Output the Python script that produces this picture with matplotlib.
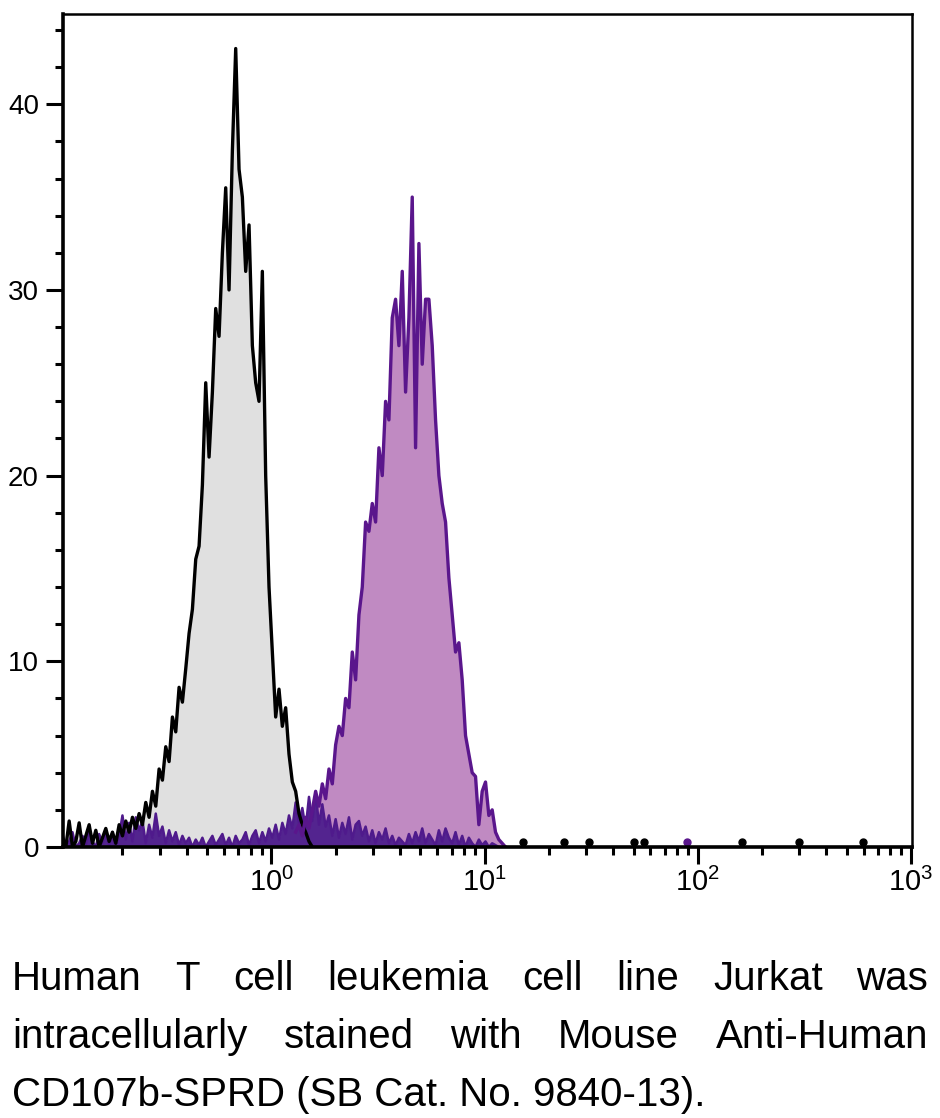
import numpy as np
import matplotlib
matplotlib.use('Agg')
import matplotlib.pyplot as plt
from matplotlib.ticker import FixedLocator, LogLocator, MultipleLocator, NullFormatter

# histogram channels (log10 of first channel, width of one channel in decades)
first_channel = -0.98
channel_width = 1 / 64

# isotype control (grey)
control_start = 0
control_counts = [0.5, 0, 1.4, 0, 0.3, 1.3, 0, 0.6, 1.2, 0.2,
                  0.9, 0, 0.5, 1.0, 0.3, 0.8, 0.2, 1.2, 0.6, 1.4,
                  0.8, 1.6, 1.0, 1.8, 1.2, 2.4, 1.6, 3.0, 2.2, 4.2,
                  3.6, 5.4, 4.6, 7.0, 6.2, 8.6, 7.8, 9.6, 11.5, 12.8,
                  15.5, 16.2, 19.5, 25.0, 21.0, 24.5, 29.0, 27.5, 32.0, 35.5,
                  30.0, 37.5, 43.0, 36.5, 35.0, 31.0, 33.5, 27.0, 25.0, 24.0,
                  31.0, 20.0, 14.0, 10.5, 7.0, 8.5, 6.5, 7.5, 5.0, 3.5,
                  3.0, 1.8, 1.2, 0.8, 0.3, 0]

# CD107b stained (purple)
stained_start = 70
stained_counts = [0.8, 1.2, 0.6, 1.6, 1.0, 2.0, 3.0, 2.2, 3.4, 2.6,
                  4.2, 3.4, 5.5, 6.5, 6.0, 8.0, 7.5, 10.5, 9.0, 12.5,
                  14.0, 17.5, 17.0, 18.5, 17.5, 21.5, 20.0, 24.0, 23.0, 28.5,
                  29.5, 27.0, 31.0, 24.5, 28.5, 35.0, 21.5, 32.5, 26.0, 29.5,
                  29.5, 27.0, 23.0, 20.0, 18.5, 17.5, 14.5, 12.5, 10.5, 11.0,
                  9.0, 6.0, 5.0, 4.0, 3.8, 1.2, 3.0, 3.5, 1.7, 2.0,
                  0.8, 0.4, 0.2, 0.0]

# low-level events (dark purple)
background_start = 0
background_counts = [0.7, 0, 0.3, 0.8, 0, 0.2, 0.6, 0.1, 0.9, 0.3,
                     0, 0.7, 0.2, 0.9, 0.1, 0.8, 0, 0.6, 1.7, 0.4,
                     1.3, 0.3, 1.6, 0.9, 1.4, 0.2, 1.2, 0.5, 1.8, 0.6,
                     1.1, 0.2, 0.9, 0.3, 0.8, 0.1, 0.6, 0.2, 0.5, 0,
                     0.4, 0.1, 0.5, 0, 0.3, 0.6, 0.1, 0.4, 0.7, 0.1,
                     0.5, 0, 0.6, 0.2, 0.4, 0.8, 0.1, 0.6, 0.9, 0.2,
                     0.8, 0.3, 1.0, 0.5, 1.2, 0.4, 1.3, 0.7, 1.7, 1.0,
                     2.4, 1.3, 2.1, 1.0, 2.7, 1.4, 2.9, 1.2, 2.3, 1.1,
                     1.7, 0.6, 1.5, 0.5, 1.3, 0.7, 1.6, 0.4, 1.2, 1.4,
                     0.6, 1.1, 0.3, 0.9, 0.2, 0.8, 0.4, 1.0, 0.2, 0.6,
                     0.1, 0.5, 0.3, 0.1, 0.7, 0.2, 0.8, 0.3, 1.0, 0.2,
                     0.7, 0.4, 0.1, 0.9, 0.3, 1.0, 0.5, 0.2, 0.8, 0.1,
                     0.6, 0, 0.5, 0.2, 0, 0.4, 0.1, 0.3, 0, 0.2,
                     0.1, 0, 0, 0]

# single events far out on the right
black_events = [15.2, 23.5, 30.8, 50.1, 55.8, 161, 298, 596]
purple_events = [88.8]
event_height = 0.25

y_major = [0, 10, 20, 30, 40]
x_major = [1, 10, 100, 1000]
x_labels = ['$10^{0}$', '$10^{1}$', '$10^{2}$', '$10^{3}$']

caption_lines = ['Human T cell leukemia cell line Jurkat was',
                 'intracellularly stained with Mouse Anti-Human',
                 'CD107b-SPRD (SB Cat. No. 9840-13).']


def channels(start, counts):
    return 10 ** (first_channel + channel_width * (start + np.arange(len(counts))))


plt.rcParams['font.family'] = ['Liberation Sans', 'DejaVu Sans']
plt.rcParams['mathtext.fontset'] = 'custom'
plt.rcParams['mathtext.rm'] = 'Liberation Sans'
plt.rcParams['mathtext.it'] = 'Liberation Sans'

W, H = 940, 1118
fig = plt.figure(figsize=(W / 100, H / 100), dpi=100)
ax = fig.add_axes([62.5 / W, (H - 847) / H, (912 - 62.5) / W, (847 - 14) / H])

grey_x = channels(control_start, control_counts)
purp_x = channels(stained_start, stained_counts)
bg_x = channels(background_start, background_counts)

ax.fill_between(grey_x, control_counts, color='#e0e0e0', lw=0)
ax.fill_between(purp_x, stained_counts, color='#c08ac2', lw=0)
ax.fill_between(bg_x, background_counts, color='#53248f', lw=0)
ax.plot(bg_x, background_counts, color='#4f1a8c', lw=1.8)
ax.plot(grey_x, control_counts, color='black', lw=2.4)
ax.plot(purp_x, stained_counts, color='#5a168c', lw=2.4)

ax.plot(black_events, [event_height] * len(black_events), 'o', color='black', ms=5, clip_on=False)
ax.plot(purple_events, [event_height] * len(purple_events), 'o', color='#5a168c', ms=5, clip_on=False)

ax.set_xscale('log')
ax.set_xlim(10 ** -0.98, 10 ** 3.005)
ax.set_ylim(0, 44.86)

ax.xaxis.set_major_locator(FixedLocator(x_major))
ax.set_xticklabels(x_labels)
ax.xaxis.set_minor_locator(LogLocator(base=10, subs=np.arange(2, 10)))
ax.xaxis.set_minor_formatter(NullFormatter())
ax.yaxis.set_major_locator(FixedLocator(y_major))
ax.yaxis.set_minor_locator(MultipleLocator(2))

ax.tick_params(which='major', length=12, width=2.2, direction='out', pad=5)
ax.tick_params(which='minor', length=6, width=2.2, direction='out')
ax.tick_params(axis='y', which='major', labelsize=20)
ax.tick_params(axis='x', which='major', labelsize=21, pad=3)

for side in ['left', 'bottom']:
    ax.spines[side].set_linewidth(2.6)
for side in ['top', 'right']:
    ax.spines[side].set_linewidth(1.8)

# caption, justified like the original
cap_kw = dict(fontsize=29, family=['Liberation Sans', 'DejaVu Sans'],
              va='baseline', ha='left')
baselines = [990, 1048, 1106]
left_px, right_px = 12, 928
fig.canvas.draw()
renderer = fig.canvas.get_renderer()
for k, line in enumerate(caption_lines):
    yb = 1 - baselines[k] / H
    if k == len(caption_lines) - 1:
        fig.text(left_px / W, yb, line, **cap_kw)
        continue
    words = line.split()
    texts = [fig.text(0, yb, w, **cap_kw) for w in words]
    widths = [t.get_window_extent(renderer).width for t in texts]
    gap = (right_px - left_px - sum(widths)) / (len(words) - 1)
    x = left_px
    for t, w in zip(texts, widths):
        t.set_position((x / W, yb))
        x += w + gap

fig.savefig('out.png', dpi=100)
